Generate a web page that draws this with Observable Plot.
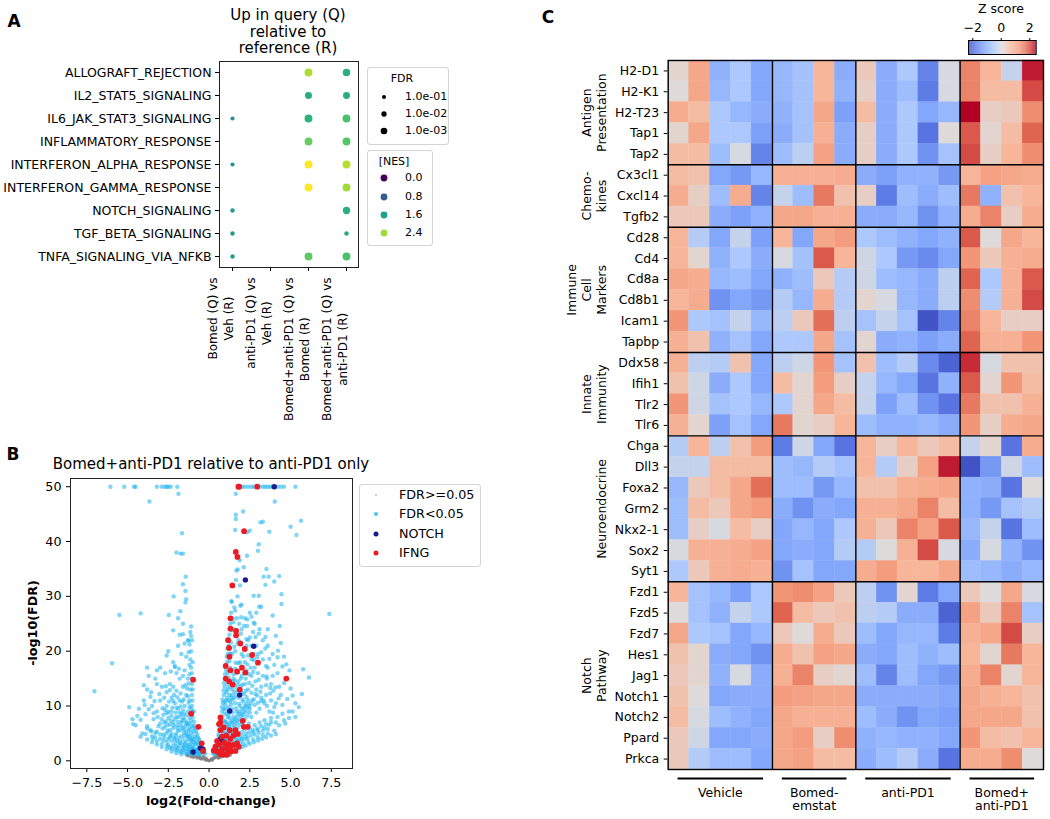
<!DOCTYPE html>
<html><head><meta charset="utf-8">
<script src="https://cdn.jsdelivr.net/npm/d3@7"></script>
<script src="https://cdn.jsdelivr.net/npm/@observablehq/plot@0.6"></script>
<style>
body{margin:0;background:#fff;font-family:"DejaVu Sans",sans-serif;color:#000;}
#root{position:relative;width:1050px;height:819px;overflow:hidden;background:#fff;}
.t{position:absolute;white-space:pre;line-height:1.15;}
.legbox{position:absolute;border:1px solid #d4d4d4;border-radius:3px;background:#fff;}
svg{overflow:visible;}
</style></head><body><div id="root"></div>
<script>
// ---------------- Panel A data ----------------
const pathways = ["ALLOGRAFT_REJECTION","IL2_STAT5_SIGNALING","IL6_JAK_STAT3_SIGNALING","INFLAMMATORY_RESPONSE","INTERFERON_ALPHA_RESPONSE","INTERFERON_GAMMA_RESPONSE","NOTCH_SIGNALING","TGF_BETA_SIGNALING","TNFA_SIGNALING_VIA_NFKB"];
const comparisons = ["Bomed (Q) vs\nVeh (R)","anti-PD1 (Q) vs\nVeh (R)","Bomed+anti-PD1 (Q) vs\nBomed (R)","Bomed+anti-PD1 (Q) vs\nanti-PD1 (R)"];
const gseaPathway = [2,4,6,7,8, 0,1,2,3,4,5,8, 0,1,2,3,4,5,6,7,8];
const gseaComp    = [0,0,0,0,0, 2,2,2,2,2,2,2, 3,3,3,3,3,3,3,3,3];
const gseaNES     = [1.45,1.45,1.55,1.55,1.55, 2.45,1.75,1.8,2.15,2.8,2.8,2.1, 1.75,1.75,2.0,2.05,2.5,2.4,1.75,1.7,2.0];
const gseaFDR     = [0.08,0.08,0.05,0.05,0.05, 1e-4,5e-4,1e-4,1e-4,1e-4,1e-4,1e-4, 2e-4,5e-4,1e-4,1e-4,1e-4,1e-4,3e-4,0.04,1e-4];
const fdrLegend = [0.1, 0.01, 0.001];
const nesLegend = [0.0, 0.8, 1.6, 2.4];

// ---------------- Panel B data ----------------
const nsPoints = [[-1.4,1.1],[-1.2,1.0],[-1.0,0.9],[-0.9,1.0],[-0.8,0.8],[-0.7,0.7],[-0.6,0.8],[-0.5,0.6],[-0.4,0.5],[-0.35,0.8],[-0.3,0.35],[-0.25,0.6],[-0.2,0.25],[-0.15,0.4],[-0.1,0.15],[-0.05,0.1],[0,0],[0.05,0.1],[0.1,0.2],[0.15,0.35],[0.2,0.3],[0.25,0.5],[0.3,0.45],[0.35,0.7],[0.4,0.6],[0.45,0.85],[0.5,0.75],[0.6,0.9],[0.7,0.85],[0.8,1.0],[0.9,0.95],[1.0,1.1],[1.1,1.05],[1.2,1.15],[-1.1,0.7],[-0.95,0.6],[-0.75,0.5],[-0.55,0.4],[-0.45,0.3],[0.55,0.5],[0.65,0.6],[0.75,0.7],[0.85,0.75],[1.0,0.85],[-0.2,0.1],[0.2,0.1],[-0.6,0.55],[0.6,0.55],[-1.3,0.9],[1.3,1.0]];
const sigPoints = [
[-6.05,50],[-5.2,50],[-4.6,50],[-4.5,50],[-3.2,50],[-2.9,50],[-2.7,50],[-2.6,50],[-2.5,50],[-2.35,50],[-1.95,50],
[1.9,50],[2.05,50],[2.2,50],[2.4,50],[2.6,50],[2.75,50],[3.1,50],[3.3,50],[3.45,50],[3.6,50],[3.75,50],[3.9,50],[4.2,50],[4.4,50],[4.6,50],[5.3,50],
[-3.66,47.3],[-1.88,48.7],[1.64,48.7],[4.03,47.3],
[-1.66,41.5],[-2.0,38],[-1.75,37.8],[-1.6,37.8],[-1.43,33.6],[-1.6,32.2],[-2.17,30],[-1.4,29.5],[-1.45,28.9],[-1.76,27.3],[-5.5,26.6],[-4.2,26.9],[-2.47,26.6],[-5.95,17.8],[-7.03,12.7],[-3.8,17],[-3.2,16.5],[-2.6,19.2],[-2.2,23.8],[-2.1,17.1],[-1.6,23.1],[-1.5,21.4],[-1.25,21.9],[-4.66,6.7],
[2.09,45.5],[1.64,44.9],[1.64,44.1],[1.6,42.1],[2.33,41.7],[2.5,42],[3.15,43.5],[3.3,43.6],[3.7,41.8],[5.0,42.7],[5.36,41.2],[5.64,43.8],[3.05,39.5],[3.0,38.3],[2.33,37.4],[1.88,36.6],[1.76,34.9],[2.13,35.3],[1.68,34.7],[3.52,35],[3.35,33.6],[3.66,33.6],[4.0,32.7],[4.3,33.7],[3.46,32.1],[2.74,30.1],[3.05,30.1],[4.44,30.4],[4.44,28.6],[3.07,28.1],[3.2,28.1],[1.37,29.1],[1.92,28.3],[1.96,26.2],[1.6,27.4],[7.38,26.8],[2.74,25.2],[4.34,24.6],[3.46,22.6],[4.23,20.1],[4.2,18.9],[4.74,17.6],[4.93,16.5],[5.77,16.7],[6.13,15.2],[5.7,12.2],[5.13,11.9],[5.13,9.0],[4.68,6.8],[3.93,8.8],[3.5,17.3],[3.52,15.4],[4.07,13.4],[3.76,13.3],[4.27,11.4],[2.74,19.5],[2.29,22.2],[2.33,24.6],[1.62,17.9],[1.41,19.5],[1.2,20.7],[1.5,15.8],
[-0.3,1.5],[-0.4,2.2],[-0.5,3],[-0.6,3.8],[-0.7,4.5],[-0.8,5.5],[-0.9,6.5],[-1.0,8],[-1.05,10],[-1.05,12],[-1.05,14],[-1.05,16],[-1.0,18],[-1.1,20],[-1.05,22],[-1.1,24.5],[-1.05,15],[-1.0,13],[-1.1,17],
[-0.5,1.4],[-0.7,1.6],[-0.9,2.0],[-1.1,2.5],[-1.3,2.8],[-1.5,3.2],[-1.8,3.5],[-2.1,3.9],[-2.4,4.3],[-2.8,4.8],[-3.2,5.3],[-3.6,5.6],
[-0.8,1.3],[-1.0,1.4],[-1.2,1.6],[-1.4,1.8],[-1.6,2.0],[-1.9,2.3],[-2.2,2.8],[-2.6,3.5],[-3.0,4.0],[-1.3,1.3],[-1.7,1.6],[-2.0,1.9],[-2.4,2.4],
[-0.6,2.5],[-0.8,3.2],[-1.0,3.8],[-1.2,4.5],[-1.4,5.2],[-1.6,6.0],[-1.9,6.5],[-2.2,7.0],[-2.5,7.8],[-2.8,8.4],[-3.2,9.0],[-3.5,10],[-3.9,8.5],[-4.2,7.5],[-4.5,6.5],[-4.3,9.5],[-4.0,11],[-3.8,13],[-3.6,11.7],
[-0.9,4.0],[-1.1,5.2],[-1.3,6.5],[-1.5,7.5],[-1.7,8.5],[-1.9,9.5],[-2.1,10.5],[-2.3,11.5],[-2.6,12.5],[-2.9,13.5],[-3.2,14],[-2.0,12.8],[-1.8,11],[-1.5,10],[-1.3,9],[-1.2,7.8],[-1.4,12],[-1.6,13.5],[-1.8,15],[-2.0,16],[-1.3,15],[-1.5,16.5],[-1.2,17.5],[-1.4,19],[-1.7,19.5],[-1.15,13],[-1.2,11],[-0.95,9],
[-2.4,5.6],[-2.7,6.2],[-3.0,6.8],[-3.4,7.6],[-3.8,6.3],[-4.1,5.0],[-3.5,4.5],[-2.0,5.0],[-1.7,4.5],[-2.3,9.0],[-2.6,10],[-3.0,11],[-2.4,14],[-2.7,16],[-3.0,17],[-3.3,15],[-2.2,18],[-2.5,20],[-1.9,21],[-1.3,22],[-1.6,25],[-1.9,26],[-1.8,23],[-1.45,31],
[-1.1,3.3],[-1.3,4.0],[-1.5,4.6],[-1.0,6.0],[-1.2,6.8],[-1.4,8.3],[-1.6,9.2],[-1.1,9.5],[-0.85,3.0],[-0.7,2.2],[-1.9,5.5],[-2.2,6.0],[-2.6,5.0],[-1.7,7.0],[-2.0,8.0],[-1.55,11.2],[-1.75,12.3],[-2.2,13.5],
[-0.25,1.3],[-0.35,1.9],[-0.45,2.6],[-0.55,3.3],[-0.65,4.1],[-0.75,5.0],[-0.85,6.0],[-0.92,7.2],[-0.98,9.0],[-1.02,11],
[-0.45,1.7],[-0.55,2.1],[-0.65,2.9],[-0.75,3.6],[-0.85,4.4],[-0.95,5.3],[-1.05,6.4],[-1.1,7.3],[-1.15,8.6],[-1.2,9.8],[-1.25,10.6],[-1.3,11.8],[-1.35,13.2],[-1.25,14.1],[-1.2,15.8],[-1.15,18.5],[-1.25,19.8],[-1.2,21.2],[-1.1,22.8],[-1.15,23.5],
[-0.6,1.5],[-0.8,2.0],[-1.0,2.6],[-1.2,3.0],[-1.4,3.5],[-1.6,3.9],[-1.85,4.2],[-2.05,4.6],[-2.3,5.0],[-2.55,5.5],[-2.85,5.9],[-3.1,6.3],
[-0.7,1.2],[-0.9,1.5],[-1.1,1.7],[-1.35,2.2],[-1.55,2.5],[-1.8,2.8],[-2.05,3.2],[-2.3,3.6],[-2.5,4.0],[-2.75,4.3],[-3.0,4.8],[-3.3,5.1],[-3.55,5.4],[-3.8,5.9],
[-1.0,1.2],[-1.2,1.35],[-1.5,1.5],[-1.8,1.8],[-2.1,2.1],[-2.3,2.3],[-2.6,2.7],[-2.9,3.1],[-3.2,3.6],[-3.45,4.0],
[-1.05,4.6],[-1.25,5.6],[-1.45,6.4],[-1.65,7.3],[-1.85,8.0],[-2.05,8.8],[-2.25,9.7],[-2.45,10.8],[-2.75,11.5],[-3.05,12.2],
[-1.35,7.0],[-1.55,8.6],[-1.75,9.9],[-1.95,11.6],[-2.15,12.0],[-2.4,12.9],[-2.65,13.6],[-1.65,10.8],[-1.45,13.8],[-1.6,15.5],[-1.85,16.8],[-2.1,17.3],[-2.35,16.3],
[-2.4,6.6],[-2.65,7.2],[-2.9,7.6],[-3.15,8.0],[-3.4,8.7],[-3.7,9.4],[-3.95,10.2],[-2.6,8.7],[-2.85,9.6],[-3.35,10.9],[-3.55,12.5],[-4.0,13.8],[-3.7,15.5],[-4.4,8.2],[-4.7,7.6],[-4.9,9.8],[-4.2,4.4],[-3.9,4.9],
[-0.55,1.2],[-0.75,1.9],[-0.95,2.3],[-1.15,2.1],[-1.35,2.6],[-1.55,2.9],[-1.75,3.2],[-1.95,3.7],[-2.15,4.2],[-2.35,4.6],
[-0.95,3.4],[-1.15,3.9],[-1.35,4.5],[-1.55,5.1],[-1.75,5.6],[-1.95,6.0],[-2.15,6.5],[-2.35,7.3],[-2.55,6.6],[-2.75,7.0],
[-1.1,4.0],[-1.3,4.8],[-1.5,5.7],[-1.7,6.3],[-1.9,7.1],[-2.1,7.6],[-2.3,8.2],[-2.5,8.9],[-2.7,9.3],[-1.2,5.9],[-1.4,6.9],[-1.6,7.8],[-1.8,8.8],[-2.0,9.7],[-2.2,10.9],
[-1.7,1.2],[-2.0,1.4],[-2.3,1.7],[-2.6,2.1],[-2.9,2.5],[-3.2,3.0],[-3.5,3.4],[-3.8,3.9],[-2.8,3.7],[-3.3,4.3],[-2.5,2.9],[-2.0,2.6],[-1.6,2.3],[-1.2,2.0],
[0.3,1.4],[0.4,2.0],[0.5,2.8],[0.55,3.5],[0.6,4.5],[0.65,5.5],[0.7,6.5],[0.75,7.5],[0.8,9],[0.85,10.5],[0.9,12],[0.95,13.5],[1.0,15],[1.05,16.5],[1.1,18],[1.15,19.5],[1.2,21],[1.25,23],[1.3,25],[1.35,27],[1.4,29],
[0.5,1.3],[0.7,1.5],[0.9,1.7],[1.1,1.9],[1.3,2.1],[1.5,2.3],[1.7,2.5],[1.9,2.8],[2.1,3.1],[2.4,3.5],[2.7,3.9],[3.0,4.3],[3.3,4.7],[3.6,5.0],[4.0,5.5],
[0.8,2.5],[1.0,3.0],[1.2,3.5],[1.4,4.0],[1.6,4.3],[1.8,4.8],[2.0,5.2],[2.2,5.7],[2.5,6.0],[2.8,6.5],[3.1,7.0],[3.4,7.4],[3.8,7.8],[4.2,8.0],[4.5,8.6],[4.9,9.0],
[0.9,5.0],[1.1,6.0],[1.3,7.0],[1.5,8.0],[1.7,9.0],[1.9,10],[2.1,10.8],[2.3,11.6],[2.6,12.4],[2.9,13],[3.2,13.5],[3.5,12],[3.8,11],[4.1,10.5],[4.4,12],
[1.0,9.5],[1.2,11],[1.4,12],[1.6,13.5],[1.8,14.5],[2.0,15.5],[2.2,14],[2.4,13],[2.6,15.5],[2.8,17],[3.0,16],[3.3,18.5],[3.6,17],[3.9,15.5],[4.2,16],
[1.2,8.5],[1.4,9.5],[1.6,10.5],[1.8,11.5],[2.0,12.5],[2.5,9.5],[2.8,10.2],[3.1,9.5],[3.4,10.5],[3.7,9.0],[4.0,9.8],
[1.3,13.5],[1.5,15],[1.7,16],[1.9,18],[2.1,19],[2.3,21],[2.5,22.5],[2.7,23.5],[2.9,21],[1.6,20],[1.8,22],[2.0,24],[2.2,26],[1.5,24],[1.7,26],[1.55,28],[1.75,30],[1.9,32],[2.0,28.5],[1.65,33],[2.5,27],[2.8,25],[3.1,24],[3.3,22],[3.6,21],[3.9,19.5],[4.4,21.5],[4.6,19.0],
[1.1,11.5],[1.3,17],[1.15,14],[0.7,3.5],[0.9,3.8],[1.1,4.4],[1.3,5.2],[1.5,6.0],[1.7,6.8],[1.9,7.5],[2.1,8.3],[2.3,9.0],[2.6,8.0],[2.9,8.8],[3.2,11.5],[3.5,13.8],[2.3,16.5],[2.6,18.5],[3.0,19.5],[2.45,6.8],[2.7,5.2],[3.0,5.6],[3.4,6.0],[3.7,6.6],[4.1,7.0],[4.6,7.4],[0.6,2.2],[0.75,2.0],[1.0,2.3],[1.25,2.7],[1.5,3.0],[1.75,3.6],[2.0,4.0],[2.3,4.4],[0.8,4.2],[1.0,5.2],[1.2,6.4],[1.4,7.3],[1.6,7.6],[1.8,8.5],[2.0,9.4],[2.2,10],[1.35,10.3],[1.55,11.5],[1.75,12.8],[1.95,13.6],[2.15,12.2],[2.4,11],
[0.25,1.3],[0.35,1.8],[0.42,2.4],[0.48,3.1],[0.52,3.8],[0.58,4.8],[0.62,5.8],[0.68,7.0],[0.72,8.0],[0.78,9.8],[0.82,11.2],[0.88,12.8],[0.92,14.2],[0.98,15.8],[1.02,17.4],[1.08,19],[1.12,20.5],[1.18,22.2],
[0.4,1.2],[0.45,1.5],[0.6,1.8],[0.65,2.6],[0.7,3.0],[0.75,4.0],[0.8,5.4],[0.85,6.4],[0.9,7.4],[0.95,8.5],[1.0,10.2],[1.05,11.0],[1.1,12.8],[1.15,16.0],[1.2,15.2],[1.25,18.2],[1.3,19.6],[1.35,21.6],[1.4,23.8],[1.45,26],
[0.85,1.4],[1.05,1.5],[1.25,1.7],[1.45,1.9],[1.65,2.1],[1.85,2.3],[2.05,2.5],[2.25,2.8],[2.5,3.1],[2.75,3.4],[3.0,3.7],[3.25,4.0],[3.5,4.3],[3.8,4.6],[4.1,4.9],
[1.05,2.6],[1.25,3.0],[1.45,3.4],[1.65,3.8],[1.85,4.1],[2.05,4.5],[2.25,4.9],[2.45,5.2],[2.7,5.6],[2.95,5.9],[3.2,6.3],[3.5,6.7],[3.8,7.1],[4.3,6.5],
[1.0,4.0],[1.15,4.9],[1.35,5.6],[1.55,6.5],[1.75,7.3],[1.95,8.1],[2.15,8.9],[2.35,9.7],[2.55,10.4],[2.75,11.2],[2.95,11.9],[3.15,12.6],[3.35,11.0],[3.55,10.0],[3.75,12.3],[3.95,12.8],
[1.05,7.0],[1.25,7.8],[1.45,8.8],[1.65,9.6],[1.85,10.4],[2.05,11.2],[2.25,12.8],[2.45,14.2],[2.65,13.7],[2.85,14.5],[3.05,14.8],[3.3,15.5],[3.55,15.0],[3.8,14.0],
[1.15,8.0],[1.35,11.5],[1.55,12.6],[1.75,13.9],[1.95,15.0],[2.15,16.0],[2.35,17.6],[2.55,17.0],[2.75,18.4],[2.95,18.9],[3.2,19.8],[3.45,20.5],[3.7,18.6],
[1.45,14.5],[1.6,16.8],[1.8,17.8],[2.0,19.5],[2.2,20.6],[2.4,22.0],[2.6,21.0],[2.85,22.6],[3.05,23.2],[1.55,20.8],[1.75,21.4],[1.95,23.2],[2.15,24.6],[2.35,25.8],[1.6,22.8],[1.5,25.3],[1.85,25.0],[2.6,26.3],[2.9,27.0],
[4.5,10.2],[4.8,11.3],[4.3,13.5],[4.6,14.2],[5.0,13.2],[5.3,10.5],[4.9,7.8],[5.3,8.0],[5.5,9.8],[4.0,17.5],[4.5,17.2],[3.6,24.0],[3.9,26.5],[4.1,22.8],
[0.55,1.6],[0.7,2.4],[0.85,2.9],[1.0,3.5],[1.15,4.0],[1.3,4.6],[1.45,5.1],[1.6,5.5],[1.75,6.0],[1.9,6.6],[2.05,7.0],[2.2,7.6],[2.35,8.2],[2.5,8.8],
[0.95,1.9],[1.15,2.4],[1.35,2.9],[1.55,3.2],[1.75,3.4],[1.95,3.5],[2.15,3.9],[2.35,4.1],[2.55,4.6],[2.8,4.8],[3.05,5.1],[3.3,5.5],[3.6,5.8],
[1.1,6.7],[1.25,6.2],[1.4,6.8],[1.55,7.2],[1.7,8.0],[1.85,8.9],[2.0,8.6],[2.15,9.6],[2.3,10.4],[2.45,10.0],[2.65,11.0],[2.85,12.2],[3.0,10.6],[3.2,10.9],
[1.2,9.8],[1.3,10.8],[1.45,11.2],[1.65,12.0],[1.85,12.9],[2.05,13.9],[2.25,15.0],[2.45,15.8],[2.7,16.2],[1.4,13.0],[1.6,14.6],[1.8,16.2],[2.0,17.2],[2.2,18.0],[2.4,19.2],
[0.95,10.8],[1.05,12.4],[1.15,13.2],[1.25,12.0],[0.9,9.4],[1.1,8.8],[1.0,7.2],[0.95,6.2]
];
const notchPoints = [[4.0,50],[2.23,33],[2.74,20.9],[1.88,12],[1.27,9.1],[0.7,4.0],[-0.98,1.6],[-0.53,2.3],[-0.37,2.1],[0.85,3.5],[1.1,2.8]];
const ifngPoints = [[1.8,50],[1.85,50],[2.95,50],[2.15,41.9],[1.64,38.1],[1.74,37.2],[1.43,32],[1.31,26],[1.31,24.1],[1.66,23.7],[1.66,22.9],[1.17,22],[1.23,20.6],[1.92,21.4],[2.19,20.4],[2.64,19.3],[3.0,17.9],[1.25,19],[1.02,17.3],[1.31,16.5],[1.72,16.3],[2.02,17],[2.23,16.1],[1.02,15],[1.23,14.5],[4.74,15],[1.45,13.9],[1.88,13],[-0.98,14.8],[-1.1,8.6],[-0.65,6.2],[-0.45,3.2],[-0.37,1.8],[2.07,7.3],[2.37,6.2],[2.13,6.2],[0.7,7.9],[0.7,7.0],[0.61,6.7],[0.7,5.6],[0.9,6.1],[1.27,5.6],[1.62,5.6],[1.76,4.9],[1.5,4.6],[1.3,4.0],[1.06,4.6],[0.8,4.4],[0.49,3.6],[0.65,3.0],[0.94,3.3],[1.2,3.0],[1.5,2.9],[1.72,3.2],[0.29,1.9],[0.45,1.8],[0.6,1.5],[0.8,2.1],[1.0,2.4],[1.17,1.9],[1.35,1.7],[1.62,1.8],[0.39,2.6],[0.7,1.2],[0.9,1.2],[1.1,1.1],[1.3,2.5],[1.82,2.6]];

// ---------------- Panel C data ----------------
const genes = ["H2-D1","H2-K1","H2-T23","Tap1","Tap2","Cx3cl1","Cxcl14","Tgfb2","Cd28","Cd4","Cd8a","Cd8b1","Icam1","Tapbp","Ddx58","Ifih1","Tlr2","Tlr6","Chga","Dll3","Foxa2","Grm2","Nkx2-1","Sox2","Syt1","Fzd1","Fzd5","Fzd7","Hes1","Jag1","Notch1","Notch2","Ppard","Prkca"];
const geneGroups = ["Antigen\nPresentation","Chemo-\nkines","Immune\nCell\nMarkers","Innate\nImmunity","Neuroendocrine","Notch\nPathway"];
const geneGroupSizes = [5,3,6,4,7,9];
const conditions = ["Vehicle","Bomed-\nemstat","anti-PD1","Bomed+\nanti-PD1"];
const conditionSizes = [5,4,5,4];
const zTicks = [-2, 0, 2];
const zscore = [
[0.2,1.0,-0.9,-0.5,-1.1, -0.8,-0.6,0.7,-1.0, 0.4,-1.0,-0.5,-1.6,0.0, 1.5,0.7,-0.2,2.3],
[0.1,1.0,-0.8,-0.5,-1.1, -0.8,-0.6,0.7,-0.9, 0.3,-1.0,-0.7,-1.7,0.0, 1.5,0.6,0.6,2.0],
[0.9,0.6,-0.5,-0.8,-1.0, -0.9,-0.6,1.0,-1.2, 0.6,-1.0,-0.5,-1.1,-0.8, 2.5,0.3,0.4,1.4],
[0.2,1.0,-0.5,-0.5,-1.2, -1.0,-0.6,0.8,-1.0, 0.3,-1.0,-0.5,-1.8,0.1, 1.9,0.2,0.6,1.8],
[0.6,0.6,-0.7,0.0,-1.6, -0.7,-0.3,1.1,-1.0, 0.3,-1.0,-0.5,-1.4,-0.6, 2.0,0.3,0.7,1.4],
[0.6,0.5,-1.1,-1.3,-0.8, 0.8,0.8,0.8,0.9, -1.0,-1.2,-0.9,-0.9,-1.3, 0.7,1.1,1.0,0.9],
[0.9,0.3,-0.7,0.9,-1.6, -0.2,-0.7,1.6,0.5, 0.3,-1.7,-0.7,-1.0,-0.7, 1.6,-0.9,0.5,0.7],
[0.4,0.4,-1.0,-1.2,-0.9, 1.0,1.0,0.8,0.8, -1.0,-1.0,-0.8,-1.4,-0.9, 0.9,1.5,0.3,0.9],
[0.7,-0.4,-1.1,-0.2,-1.2, 0.7,-1.1,1.0,1.2, -0.5,-0.7,-0.9,-1.1,-0.9, 1.9,0.1,1.0,0.7],
[0.7,0.2,-0.9,-0.5,-1.0, 0.0,-0.6,1.9,0.7, -0.1,-0.5,-1.3,-1.5,-1.1, 1.3,0.4,0.8,0.9],
[1.0,0.9,-0.8,-0.7,-1.1, -0.9,-0.7,0.4,-0.4, -0.1,-0.7,-0.8,-1.0,-0.3, 1.8,-0.5,0.8,1.9],
[0.7,0.9,-1.4,-1.1,-1.3, -0.4,-0.8,0.9,-0.4, 0.2,0.0,-0.8,-1.0,-0.3, 1.4,-0.4,0.8,2.0],
[1.3,-0.5,-0.6,-0.2,-0.8, -0.3,0.4,1.7,-0.3, -0.6,-0.2,-0.6,-2.2,-1.6, 1.5,0.7,0.3,0.3],
[0.8,0.5,-0.9,-0.6,-1.1, -0.5,-0.5,1.0,-0.6, 0.2,-1.0,-0.9,-1.2,-1.0, 1.8,0.8,0.8,1.3],
[0.8,-0.3,-0.4,0.5,-1.1, -0.3,-0.1,1.3,-0.6, 0.5,-0.7,-0.4,-1.5,-2.0, 2.2,0.0,0.5,0.5],
[0.5,-0.1,-1.0,-0.5,-1.1, 0.6,0.2,1.2,0.3, -0.2,-0.8,-1.1,-1.8,-0.9, 1.9,0.2,1.3,0.6],
[1.3,-0.1,-0.6,-0.5,-0.8, -0.5,0.2,1.0,0.6, -0.2,-1.2,-0.7,-1.4,-1.8, 1.6,0.5,0.5,0.8],
[0.8,0.2,-1.2,-0.6,-1.1, 1.6,0.2,0.3,0.7, -0.7,-0.9,-0.9,-0.8,-1.0, 1.3,0.3,0.9,1.0],
[-0.4,0.7,-0.3,0.5,1.2, -1.7,-0.1,-1.1,-1.8, 0.7,0.3,0.7,0.4,0.6, -0.2,0.2,-1.8,0.9],
[-0.2,-0.2,0.6,0.6,0.6, -0.7,-0.8,-0.4,-0.6, 0.7,-0.4,0.3,1.1,2.3, -2.2,-1.3,-0.1,-0.7],
[-0.8,0.4,0.6,1.0,1.7, -0.7,-0.7,-1.3,-0.8, 0.5,0.5,0.8,0.9,1.0, -0.9,-1.0,-1.8,0.1],
[-0.7,0.6,0.4,1.0,1.2, -1.0,-1.4,-1.0,-1.1, 0.8,0.8,1.0,1.5,0.6, -0.9,-1.3,-0.6,-0.4],
[-0.7,0.3,0.0,0.6,0.3, -1.1,-0.8,-1.1,-0.5, 0.8,0.4,1.5,1.1,1.9, -0.8,-0.2,-1.8,-0.7],
[0.0,0.8,0.8,0.9,1.1, -1.1,-1.0,-1.1,-0.4, -0.4,0.1,0.8,2.0,0.0, -1.0,0.0,-0.9,-1.4],
[-0.5,0.4,0.8,0.9,0.8, -1.4,-0.6,-1.1,-1.1, 0.9,1.2,0.7,0.7,1.0, -0.7,-0.8,-1.0,-0.8],
[0.7,-0.6,-0.8,-1.2,-0.5, 1.3,1.4,1.1,0.4, -0.3,-1.4,0.2,-1.7,-1.1, 0.4,0.1,1.0,0.0],
[0.1,-0.6,-0.9,-0.2,-0.5, 1.8,0.6,0.4,0.5, -0.3,-0.4,-1.0,-1.0,-2.0, 1.1,0.4,1.5,-0.6],
[1.0,-0.5,-0.6,-1.1,-0.8, 0.4,0.1,0.9,0.4, -0.7,-1.1,-0.8,-0.8,-1.7, 0.8,1.0,2.0,0.3],
[0.5,0.2,-1.0,-1.1,-1.4, 0.9,0.5,1.1,1.0, -1.0,-1.1,-0.7,-0.9,-0.7, 0.7,0.2,1.6,0.7],
[0.4,0.2,-0.9,0.0,-1.0, 0.8,1.5,0.3,0.2, -0.7,-1.6,-0.7,-1.1,-1.3, 0.9,1.5,0.2,0.7],
[0.5,0.1,-1.1,-1.0,-1.0, 1.2,1.1,1.0,1.0, -1.0,-1.0,-1.0,-1.0,-1.1, 1.0,0.8,0.7,0.5],
[0.6,0.0,-0.7,-0.9,-1.1, 1.0,0.8,0.8,0.8, -0.7,-1.0,-1.4,-1.1,-1.2, 1.0,1.0,1.0,0.5],
[0.4,-0.1,-1.1,-1.1,-1.0, 1.0,1.2,0.3,1.4, -0.9,-0.8,-0.9,-0.9,-1.1, 1.3,0.6,0.5,0.7],
[0.4,-0.4,-0.7,-0.7,-1.1, 1.0,1.1,0.6,0.6, -1.0,-0.7,-0.4,-1.0,-1.8, 0.9,0.9,1.4,0.1]
];

// ---------------- helpers ----------------
const root = document.getElementById("root");
const FONT = "DejaVu Sans";
function place(node, left, top, width) {
  const d = document.createElement("div");
  d.style.cssText = `position:absolute;left:${left}px;top:${top}px;width:${width}px;`;
  d.appendChild(node); root.appendChild(d); return d;
}
function txt(str, x, y, o = {}) {
  const d = document.createElement("div");
  d.className = "t";
  const ax = o.anchor === "start" ? "0" : o.anchor === "end" ? "-100%" : "-50%";
  d.style.left = x + "px"; d.style.top = y + "px";
  d.style.fontSize = (o.size || 12) + "px";
  d.style.fontWeight = o.weight || "normal";
  d.style.textAlign = o.align || "center";
  if (o.lh) d.style.lineHeight = o.lh;
  d.style.transform = `translate(${ax},-50%)` + (o.rotate ? ` rotate(${o.rotate}deg)` : "");
  d.textContent = str; root.appendChild(d); return d;
}
function dotSvg(x, y, r, fill) {
  const s = document.createElementNS("http://www.w3.org/2000/svg", "svg");
  s.setAttribute("width", 12); s.setAttribute("height", 12);
  s.style.cssText = `position:absolute;left:${x-6}px;top:${y-6}px;`;
  s.innerHTML = `<circle cx="6" cy="6" r="${r}" fill="${fill}"/>`;
  root.appendChild(s);
}
function legendBox(x, y, w, h) {
  const b = document.createElement("div");
  b.className = "legbox";
  b.style.cssText += `left:${x}px;top:${y}px;width:${w}px;height:${h}px;`;
  root.appendChild(b);
}
const measureCtx = document.createElement("canvas").getContext("2d");
function textWidth(s, size) { measureCtx.font = `${size}px "DejaVu Sans"`; return Math.max(...s.split("\n").map(l => measureCtx.measureText(l).width)); }

const coolwarm = d3.piecewise(d3.interpolateRgb, ["#3b4cc0","#5d7ce6","#82a6fb","#aac7fd","#dddcdc","#f7b89c","#f49a7b","#de604d","#b40426"]);
const zDomain = [-2.3, 2.45];
const nesDomain = [0, 2.8];
const rScale = {type: "linear", domain: [1, 3], range: [2.0, 3.3]};
const rFn = d3.scaleLinear(rScale.domain, rScale.range);

// ---------------- Panel A ----------------
txt("A", 14, 22, {size: 17, weight: "bold"});
txt("Up in query (Q)\nrelative to\nreference (R)", 288, 32, {size: 15, lh: "16.5px"});
const gsea = gseaPathway.map((p, i) => ({pathway: pathways[p], comp: comparisons[gseaComp[i]], nes: gseaNES[i], lfdr: -Math.log10(gseaFDR[i])}));
const A_XFONT = 12;
const plotA = Plot.plot({
  width: 460, height: 420, marginLeft: 219, marginTop: 61, marginRight: 102, marginBottom: 153,
  style: {fontFamily: FONT, fontSize: "12.5px", background: "transparent", color: "#000", overflow: "visible"},
  x: {type: "point", domain: comparisons, padding: 0.29, label: null, tickSize: 4, tickFormat: () => ""},
  y: {type: "point", domain: pathways, padding: 0.42, label: null, tickSize: 4, tickPadding: 4},
  r: rScale,
  color: {type: "linear", domain: nesDomain, scheme: "viridis"},
  marks: [
    Plot.frame({stroke: "#222"}),
    Plot.dot(gsea, {x: "comp", y: "pathway", r: "lfdr", fill: "nes"}),
    ...comparisons.map(c => Plot.text([c], {x: d => d, text: d => d, frameAnchor: "bottom", dy: 10 + textWidth(c, A_XFONT) / 2, rotate: -90, textAnchor: "middle", lineHeight: 1.3, fontSize: A_XFONT}))
  ]
});
place(plotA, 0, 0, 460);

// legends A
const viridis = d3.scaleSequential(nesDomain, d3.interpolateViridis);
legendBox(367, 67, 80, 76);
txt("FDR", 402, 79, {size: 11});
fdrLegend.forEach((f, i) => {
  const y = [97, 114, 131][i];
  dotSvg(384, y, rFn(-Math.log10(f)), "black");
  txt(d3.format(".1e")(f).replace("e-", "e-0"), 405, y, {size: 11, anchor: "start"});
});
legendBox(367, 150, 64, 94);
txt("[NES]", 394, 162, {size: 11});
nesLegend.forEach((v, i) => {
  const y = [178, 197, 215, 233][i];
  dotSvg(384, y, 3.4, viridis(v));
  txt(v.toFixed(1), 405, y, {size: 11, anchor: "start"});
});

// ---------------- Panel B ----------------
txt("B", 13, 455, {size: 17, weight: "bold"});
txt("Bomed+anti-PD1 relative to anti-PD1 only", 211, 465, {size: 15});
const plotB = Plot.plot({
  width: 360, height: 380, marginLeft: 70, marginRight: 8, marginTop: 38, marginBottom: 52,
  style: {fontFamily: FONT, fontSize: "12.7px", background: "transparent", color: "#000", overflow: "visible"},
  x: {domain: [-8.5, 8.8], ticks: [-7.5, -5, -2.5, 0, 2.5, 5, 7.5], tickFormat: d3.format(".1f"), label: null, tickSize: 4},
  y: {domain: [-1.4, 51.5], ticks: [0, 10, 20, 30, 40, 50], label: null, tickSize: 4},
  marks: [
    Plot.dot(nsPoints, {x: d => d[0], y: d => d[1], r: 1.6, fill: "#808080", fillOpacity: 0.8}),
    Plot.dot(sigPoints, {x: d => d[0], y: d => d[1], r: 2.2, fill: "#17b2ee", fillOpacity: 0.55}),
    Plot.dot(notchPoints, {x: d => d[0], y: d => d[1], r: 2.7, fill: "#1b1b8f"}),
    Plot.dot(ifngPoints, {x: d => d[0], y: d => d[1], r: 2.9, fill: "#ec1c24"}),
    Plot.frame({stroke: "#222"})
  ]
});
place(plotB, 0, 440, 360);
txt("-log10(FDR)", 33, 623, {size: 12.7, weight: "bold", rotate: -90});
txt("log2(Fold-change)", 211, 801, {size: 12.7, weight: "bold"});
legendBox(359, 484, 120, 81);
[["FDR>=0.05", "#cfcfcf", 1.2], ["FDR<0.05", "#4fc6f2", 2.1], ["NOTCH", "#1b1b8f", 2.5], ["IFNG", "#ec1c24", 2.5]].forEach(([lab, col, r], i) => {
  const y = [495, 514, 534, 553][i];
  dotSvg(376, y, r, col);
  txt(lab, 399, y, {size: 12.7, anchor: "start"});
});

// ---------------- Panel C ----------------
txt("C", 548, 18, {size: 17, weight: "bold"});
const cells = [];
zscore.forEach((row, r) => row.forEach((z, c) => cells.push({r, c, z})));
let acc = 0;
const gGroups = geneGroups.map((name, i) => { const s = acc; acc += geneGroupSizes[i]; return {name, start: s, end: acc, mid: (s + acc) / 2}; });
acc = 0;
const cGroups = conditions.map((name, i) => { const s = acc; acc += conditionSizes[i]; return {name, start: s, end: acc, mid: (s + acc) / 2}; });
const plotC = Plot.plot({
  width: 510, height: 819, marginLeft: 127.7, marginRight: 7, marginTop: 60, marginBottom: 50,
  style: {fontFamily: FONT, fontSize: "12.5px", background: "transparent", color: "#000", overflow: "visible"},
  x: {domain: [0, 18], axis: null},
  y: {domain: [0, 34], reverse: true, ticks: genes.map((g, i) => i + 0.5), tickFormat: d => genes[Math.round(d - 0.5)], tickSize: 4, label: null},
  color: {type: "linear", domain: zDomain, interpolate: coolwarm},
  marks: [
    Plot.rect(cells, {x1: "c", x2: d => d.c + 1, y1: "r", y2: d => d.r + 1, fill: "z", stroke: "z", strokeWidth: 0.4}),
    Plot.ruleX(cGroups.slice(1), {x: "start", stroke: "#000", strokeWidth: 1.4}),
    Plot.ruleY(gGroups.slice(1), {y: "start", stroke: "#000", strokeWidth: 1.4}),
    Plot.frame({stroke: "#000", strokeWidth: 1.4}),
    Plot.text(gGroups, {y: "mid", text: "name", frameAnchor: "left", dx: -62, rotate: -90, textAnchor: "middle", lineAnchor: "bottom", lineHeight: 1.2, fontSize: 12.5}),
    Plot.link(cGroups, {x1: d => d.start + 0.45, x2: d => d.end - 0.45, y1: 34, y2: 34, dy: 9, stroke: "#000", strokeWidth: 2}),
    Plot.text(cGroups, {x: "mid", y: 34, text: "name", dy: 18, lineAnchor: "top", lineHeight: 1.05, fontSize: 12.5})
  ]
});
place(plotC, 540, 0, 510);

// colorbar
const zSteps = d3.range(zDomain[0], zDomain[1], 0.025);
const cbar = Plot.plot({
  width: 110, height: 60, marginLeft: 28, marginRight: 14.3, marginTop: 40, marginBottom: 6,
  style: {fontFamily: FONT, fontSize: "12.5px", background: "transparent", color: "#000", overflow: "visible"},
  x: {domain: zDomain, axis: "top", ticks: zTicks, tickFormat: d3.format("d"), tickSize: 3, label: null},
  y: {domain: [0, 1], axis: null},
  color: {type: "linear", domain: zDomain, interpolate: coolwarm},
  marks: [
    Plot.rect(zSteps, {x1: d => d, x2: d => d + 0.03, y1: 0, y2: 1, fill: d => d}),
    Plot.frame({stroke: "#000"})
  ]
});
place(cbar, 940, 0, 110);
txt("Z score", 1001, 9, {size: 12.5});
</script></body></html>
